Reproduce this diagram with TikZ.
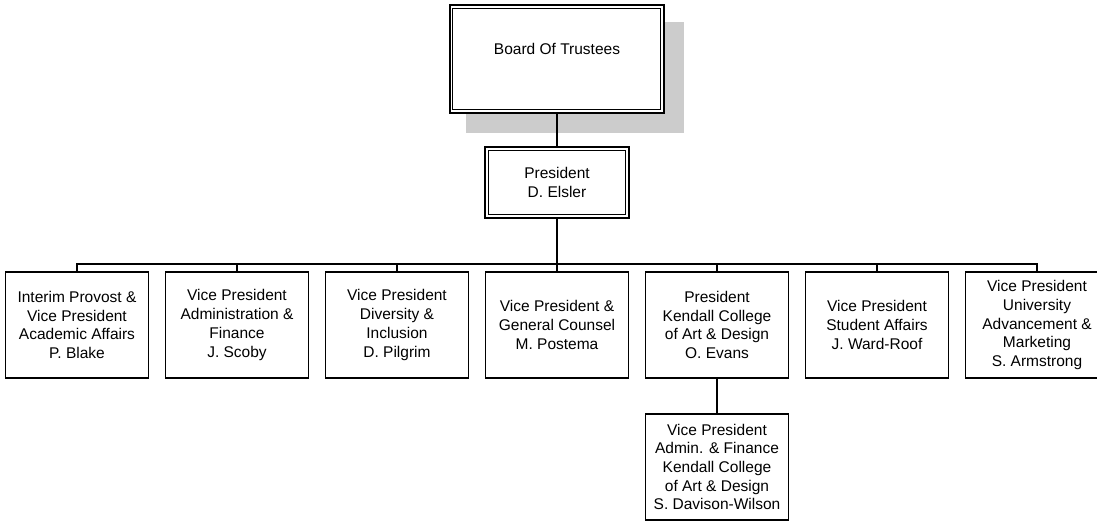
\documentclass[tikz,border=0pt]{standalone}
\usepackage{fontspec}
\setmainfont{Liberation Sans}
\begin{document}
\begin{tikzpicture}[x=1pt,y=-1pt,
  every node/.style={font=\fontsize{15.5}{18.7}\selectfont, align=center, inner sep=0pt},
  unitbox/.style={draw, line width=1.4pt, minimum width=143pt, minimum height=106pt},
  headbox/.style={draw, line width=2pt},
  innerframe/.style={draw, line width=0.9pt},
  link/.style={line width=1.4pt},
  shadowfill/.style={fill=black!20, draw=none}
]
\useasboundingbox (0,0) rectangle (1097,521);

% Board with drop shadow and double frame
\node[minimum width=213pt, minimum height=108pt] (board) at (557,59) {};
\fill[shadowfill] ([shift={(16pt,-17pt)}]board.north west) rectangle ([shift={(20pt,-20pt)}]board.south east);
\fill[white] (board.north west) rectangle (board.south east);
\draw[headbox] (board.north west) rectangle (board.south east);
\draw[innerframe] ([shift={(2.5pt,-4pt)}]board.north west) rectangle ([shift={(-3.5pt,3.5pt)}]board.south east);
\node (boardtext) at (557,49) {Board Of Trustees};

% President with double frame
\node[minimum width=143pt, minimum height=71pt] (pres) at (557,182.5) {President\\D. Elsler};
\draw[headbox] (pres.north west) rectangle (pres.south east);
\draw[innerframe] ([shift={(3.5pt,-4pt)}]pres.north west) rectangle ([shift={(-3.5pt,3.5pt)}]pres.south east);

% Direct reports
\node[unitbox] (c1) at (77,325)  {Interim Provost \&\\Vice President\\Academic Affairs\\P. Blake};
\node[unitbox] (c2) at (237,325) {Vice President\\Administration \&\\Finance\\J. Scoby};
\node[unitbox] (c3) at (397,325) {Vice President\\Diversity \&\\Inclusion\\D. Pilgrim};
\node[unitbox] (c4) at (557,325) {Vice President \&\\General Counsel\\M. Postema};
\node[unitbox] (c5) at (717,325) {President\\Kendall College\\of Art \& Design\\O. Evans};
\node[unitbox] (c6) at (877,325) {Vice President\\Student Affairs\\J. Ward-Roof};
\node[unitbox] (c7) at (1037,325) {Vice President\\University\\Advancement \&\\Marketing\\S. Armstrong};

\node[unitbox] (sub) at (717,467) {Vice President\\Admin. \& Finance\\Kendall College\\of Art \& Design\\S. Davison-Wilson};

% Connectors
\coordinate (bar) at (557,264);
\draw[link] (board.south) -- (pres.north);
\draw[link] (pres.south) -- (bar);
\foreach \c in {c1,c2,c3,c4,c5,c6,c7}
  \draw[link] (bar) -| (\c.north);
\draw[link] (c5.south) -- (sub.north);
\end{tikzpicture}
\end{document}
